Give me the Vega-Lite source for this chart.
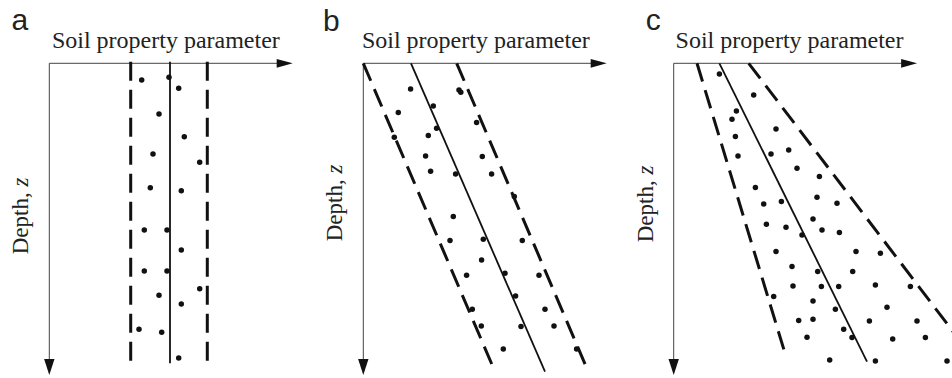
{
  "$schema": "https://vega.github.io/schema/vega-lite/v6.json",
  "padding": 0,
  "spacing": 0,
  "background": "white",
  "config": {"view": {"stroke": null}, "axis": {"disable": true}},
  "datasets": {
    "one": [{}],
    "dots": [
      {"panel":"a","p":92.4,"z":16.7},{"panel":"a","p":119.7,"z":14},{"panel":"a","p":129.4,"z":25},{"panel":"a","p":109.7,"z":50.7},
      {"panel":"a","p":135,"z":73.4},{"panel":"a","p":103.7,"z":90.7},{"panel":"a","p":150.4,"z":99},{"panel":"a","p":101,"z":124.4},
      {"panel":"a","p":132,"z":127.4},{"panel":"a","p":95,"z":166.7},{"panel":"a","p":117.7,"z":166.7},{"panel":"a","p":132,"z":186.7},
      {"panel":"a","p":95,"z":207.7},{"panel":"a","p":117.7,"z":207.7},{"panel":"a","p":150.4,"z":225.4},{"panel":"a","p":109.7,"z":232},
      {"panel":"a","p":132,"z":240.7},{"panel":"a","p":89.7,"z":266},{"panel":"a","p":112.4,"z":269},{"panel":"a","p":129.4,"z":294.7},
      {"panel":"b","p":47.3,"z":25.7},{"panel":"b","p":95.7,"z":26.7},{"panel":"b","p":97.5,"z":29},{"panel":"b","p":70,"z":42.7},
      {"panel":"b","p":35,"z":49.3},{"panel":"b","p":73.3,"z":65},{"panel":"b","p":113.3,"z":59.3},{"panel":"b","p":65,"z":72.3},
      {"panel":"b","p":31,"z":74},{"panel":"b","p":62.3,"z":92.7},{"panel":"b","p":119,"z":93.3},{"panel":"b","p":67.3,"z":108},
      {"panel":"b","p":92.3,"z":110.7},{"panel":"b","p":128.3,"z":110.7},{"panel":"b","p":151,"z":133.3},{"panel":"b","p":90,"z":153.3},
      {"panel":"b","p":86.7,"z":177.3},{"panel":"b","p":120,"z":176},{"panel":"b","p":159,"z":177.3},{"panel":"b","p":118.3,"z":196.7},
      {"panel":"b","p":103.3,"z":212},{"panel":"b","p":141.7,"z":210},{"panel":"b","p":175.7,"z":212},{"panel":"b","p":152.3,"z":232.7},
      {"panel":"b","p":109,"z":246},{"panel":"b","p":181.7,"z":246},{"panel":"b","p":118,"z":262.7},{"panel":"b","p":157.7,"z":263.3},
      {"panel":"b","p":190.7,"z":262.7},{"panel":"b","p":140,"z":285.7},{"panel":"b","p":213.3,"z":285.7},
      {"panel":"c","p":45.7,"z":10.7},{"panel":"c","p":80,"z":31.7},{"panel":"c","p":62.7,"z":47.7},{"panel":"c","p":58.3,"z":56},
      {"panel":"c","p":102.3,"z":65.7},{"panel":"c","p":61.7,"z":73.3},{"panel":"c","p":115,"z":86.7},{"panel":"c","p":64.3,"z":92.7},
      {"panel":"c","p":97.3,"z":90.7},{"panel":"c","p":123.3,"z":105},{"panel":"c","p":145.7,"z":113.3},{"panel":"c","p":81.7,"z":124.3},
      {"panel":"c","p":143.3,"z":134},{"panel":"c","p":107.7,"z":138.3},{"panel":"c","p":90,"z":140.7},{"panel":"c","p":163.3,"z":140},
      {"panel":"c","p":139.3,"z":155.7},{"panel":"c","p":92.7,"z":161},{"panel":"c","p":112.3,"z":164},{"panel":"c","p":148.3,"z":166.7},
      {"panel":"c","p":165.7,"z":169.3},{"panel":"c","p":128.3,"z":171.7},{"panel":"c","p":102.3,"z":188.3},{"panel":"c","p":182.3,"z":188.3},
      {"panel":"c","p":206.7,"z":190},{"panel":"c","p":118.3,"z":203.3},{"panel":"c","p":144,"z":208.3},{"panel":"c","p":179,"z":208.3},
      {"panel":"c","p":119.3,"z":222.7},{"panel":"c","p":147.7,"z":223.3},{"panel":"c","p":165,"z":223.3},{"panel":"c","p":201.7,"z":221.7},
      {"panel":"c","p":236.7,"z":223.3},{"panel":"c","p":100,"z":233.3},{"panel":"c","p":139.3,"z":237.7},{"panel":"c","p":213.3,"z":244},
      {"panel":"c","p":161.7,"z":246},{"panel":"c","p":125,"z":257.3},{"panel":"c","p":139.3,"z":256},{"panel":"c","p":195.7,"z":257.7},
      {"panel":"c","p":243.3,"z":257.7},{"panel":"c","p":170,"z":266},{"panel":"c","p":133.3,"z":274},{"panel":"c","p":178.3,"z":274.3},
      {"panel":"c","p":219,"z":275.7},{"panel":"c","p":251.7,"z":274.3},{"panel":"c","p":156,"z":296.7},{"panel":"c","p":201.7,"z":297.7},
      {"panel":"c","p":273.3,"z":297.7}
    ],
    "lines": [
      {"panel":"a","line":"lower","p":81.4,"z":-1.5},{"panel":"a","line":"lower","p":81.4,"z":301.7},
      {"panel":"a","line":"mean","p":120.7,"z":-1.5},{"panel":"a","line":"mean","p":120.7,"z":300},
      {"panel":"a","line":"upper","p":158,"z":-1.5},{"panel":"a","line":"upper","p":158,"z":301.7},
      {"panel":"b","line":"lower","p":0,"z":0},{"panel":"b","line":"lower","p":131.7,"z":308.4},
      {"panel":"b","line":"mean","p":47.7,"z":0},{"panel":"b","line":"mean","p":181.7,"z":308.4},
      {"panel":"b","line":"upper","p":93.4,"z":0},{"panel":"b","line":"upper","p":225,"z":308.4},
      {"panel":"c","line":"lower","p":23.3,"z":0},{"panel":"c","line":"lower","p":112.3,"z":293.3},
      {"panel":"c","line":"mean","p":45.7,"z":0},{"panel":"c","line":"mean","p":193.3,"z":298.3},
      {"panel":"c","line":"upper","p":75,"z":0},{"panel":"c","line":"upper","p":302,"z":298}
    ]
  },
  "hconcat": [
    {
      "width": 317, "height": 378,
      "layer": [
        {"data":{"name":"one"},"mark": {"type":"rule","color":"#444","strokeWidth":1},
         "encoding": {"x":{"datum":0,"type":"quantitative","scale":{"domain":[-49.3,267.7],"nice":false,"zero":false}},"x2":{"datum":236},
                      "y":{"datum":0,"type":"quantitative","scale":{"domain":[-63.3,314.7],"nice":false,"zero":false,"reverse":true}}}},
        {"data":{"name":"one"},"mark": {"type":"rule","color":"#444","strokeWidth":1},
         "encoding": {"x":{"datum":0,"type":"quantitative","scale":{"domain":[-49.3,267.7],"nice":false,"zero":false}},
                      "y":{"datum":0,"type":"quantitative","scale":{"domain":[-63.3,314.7],"nice":false,"zero":false,"reverse":true}},"y2":{"datum":304}}},
        {"data":{"name":"one"},"mark": {"type":"point","shape":"M-1,-0.55L1,0L-1,0.55Z","size":256,"filled":true,"color":"#111","opacity":1},
         "encoding": {"x":{"datum":235.4,"type":"quantitative","scale":{"domain":[-49.3,267.7],"nice":false,"zero":false}},
                      "y":{"datum":0,"type":"quantitative","scale":{"domain":[-63.3,314.7],"nice":false,"zero":false,"reverse":true}}}},
        {"data":{"name":"one"},"mark": {"type":"point","shape":"M-0.65,-1L0.65,-1L0,1Z","size":256,"filled":true,"color":"#111","opacity":1},
         "encoding": {"x":{"datum":0,"type":"quantitative","scale":{"domain":[-49.3,267.7],"nice":false,"zero":false}},
                      "y":{"datum":303.7,"type":"quantitative","scale":{"domain":[-63.3,314.7],"nice":false,"zero":false,"reverse":true}}}},
        {"data":{"name":"lines"},"transform":[{"filter":"datum.panel == 'a' && datum.line != 'mean'"}],
         "mark":{"type":"line","color":"#111","strokeWidth":3,"strokeDash":[19,9],"strokeCap":"butt"},
         "encoding":{"x":{"field":"p","type":"quantitative","scale":{"domain":[-49.3,267.7],"nice":false,"zero":false}},
                     "y":{"field":"z","type":"quantitative","scale":{"domain":[-63.3,314.7],"nice":false,"zero":false,"reverse":true}},
                     "detail":{"field":"line"},"order":{"field":"z","type":"quantitative"}}},
        {"data":{"name":"lines"},"transform":[{"filter":"datum.panel == 'a' && datum.line == 'mean'"}],
         "mark":{"type":"line","color":"#111","strokeWidth":1.8},
         "encoding":{"x":{"field":"p","type":"quantitative","scale":{"domain":[-49.3,267.7],"nice":false,"zero":false}},
                     "y":{"field":"z","type":"quantitative","scale":{"domain":[-63.3,314.7],"nice":false,"zero":false,"reverse":true}},
                     "order":{"field":"z","type":"quantitative"}}},
        {"data":{"name":"dots"},"transform":[{"filter":"datum.panel == 'a'"}],
         "mark":{"type":"point","filled":true,"size":30,"color":"#111","opacity":1},
         "encoding":{"x":{"field":"p","type":"quantitative","scale":{"domain":[-49.3,267.7],"nice":false,"zero":false}},
                     "y":{"field":"z","type":"quantitative","scale":{"domain":[-63.3,314.7],"nice":false,"zero":false,"reverse":true}}}},
        {"data":{"name":"one"},"mark":{"type":"text","text":"Soil property parameter","font":"Liberation Serif","fontSize":24,"color":"#222","align":"left","baseline":"alphabetic"},
         "encoding":{"x":{"datum":2.6,"type":"quantitative","scale":{"domain":[-49.3,267.7],"nice":false,"zero":false}},
                     "y":{"datum":-15,"type":"quantitative","scale":{"domain":[-63.3,314.7],"nice":false,"zero":false,"reverse":true}}}},
        {"data":{"name":"one"},"mark":{"type":"text","text":"Depth, ","font":"Liberation Serif","fontSize":23,"color":"#222","align":"left","baseline":"alphabetic","angle":270},
         "encoding":{"x":{"datum":-21,"type":"quantitative","scale":{"domain":[-49.3,267.7],"nice":false,"zero":false}},
                     "y":{"datum":191,"type":"quantitative","scale":{"domain":[-63.3,314.7],"nice":false,"zero":false,"reverse":true}}}},
        {"data":{"name":"one"},"mark":{"type":"text","text":"z","font":"Liberation Serif","fontStyle":"italic","fontSize":23,"color":"#222","align":"left","baseline":"alphabetic","angle":270},
         "encoding":{"x":{"datum":-21,"type":"quantitative","scale":{"domain":[-49.3,267.7],"nice":false,"zero":false}},
                     "y":{"datum":123.3,"type":"quantitative","scale":{"domain":[-63.3,314.7],"nice":false,"zero":false,"reverse":true}}}},
        {"data":{"name":"one"},"mark":{"type":"text","text":"a","font":"Liberation Sans","fontSize":30,"color":"#222","align":"left","baseline":"alphabetic"},
         "encoding":{"x":{"datum":-37.8,"type":"quantitative","scale":{"domain":[-49.3,267.7],"nice":false,"zero":false}},
                     "y":{"datum":-33.3,"type":"quantitative","scale":{"domain":[-63.3,314.7],"nice":false,"zero":false,"reverse":true}}}}
      ]
    },
    {
      "width": 317, "height": 378,
      "layer": [
        {"data":{"name":"one"},"mark": {"type":"rule","color":"#444","strokeWidth":1},
         "encoding": {"x":{"datum":0,"type":"quantitative","scale":{"domain":[-46.3,270.7],"nice":false,"zero":false}},"x2":{"datum":236},
                      "y":{"datum":0,"type":"quantitative","scale":{"domain":[-63.3,314.7],"nice":false,"zero":false,"reverse":true}}}},
        {"data":{"name":"one"},"mark": {"type":"rule","color":"#444","strokeWidth":1},
         "encoding": {"x":{"datum":0,"type":"quantitative","scale":{"domain":[-46.3,270.7],"nice":false,"zero":false}},
                      "y":{"datum":0,"type":"quantitative","scale":{"domain":[-63.3,314.7],"nice":false,"zero":false,"reverse":true}},"y2":{"datum":304}}},
        {"data":{"name":"one"},"mark": {"type":"point","shape":"M-1,-0.55L1,0L-1,0.55Z","size":256,"filled":true,"color":"#111","opacity":1},
         "encoding": {"x":{"datum":235.4,"type":"quantitative","scale":{"domain":[-46.3,270.7],"nice":false,"zero":false}},
                      "y":{"datum":0,"type":"quantitative","scale":{"domain":[-63.3,314.7],"nice":false,"zero":false,"reverse":true}}}},
        {"data":{"name":"one"},"mark": {"type":"point","shape":"M-0.65,-1L0.65,-1L0,1Z","size":256,"filled":true,"color":"#111","opacity":1},
         "encoding": {"x":{"datum":0,"type":"quantitative","scale":{"domain":[-46.3,270.7],"nice":false,"zero":false}},
                      "y":{"datum":303.7,"type":"quantitative","scale":{"domain":[-63.3,314.7],"nice":false,"zero":false,"reverse":true}}}},
        {"data":{"name":"lines"},"transform":[{"filter":"datum.panel == 'b' && datum.line != 'mean'"}],
         "mark":{"type":"line","color":"#111","strokeWidth":3,"strokeDash":[19,9],"strokeCap":"butt"},
         "encoding":{"x":{"field":"p","type":"quantitative","scale":{"domain":[-46.3,270.7],"nice":false,"zero":false}},
                     "y":{"field":"z","type":"quantitative","scale":{"domain":[-63.3,314.7],"nice":false,"zero":false,"reverse":true}},
                     "detail":{"field":"line"},"order":{"field":"z","type":"quantitative"}}},
        {"data":{"name":"lines"},"transform":[{"filter":"datum.panel == 'b' && datum.line == 'mean'"}],
         "mark":{"type":"line","color":"#111","strokeWidth":1.8},
         "encoding":{"x":{"field":"p","type":"quantitative","scale":{"domain":[-46.3,270.7],"nice":false,"zero":false}},
                     "y":{"field":"z","type":"quantitative","scale":{"domain":[-63.3,314.7],"nice":false,"zero":false,"reverse":true}},
                     "order":{"field":"z","type":"quantitative"}}},
        {"data":{"name":"dots"},"transform":[{"filter":"datum.panel == 'b'"}],
         "mark":{"type":"point","filled":true,"size":30,"color":"#111","opacity":1},
         "encoding":{"x":{"field":"p","type":"quantitative","scale":{"domain":[-46.3,270.7],"nice":false,"zero":false}},
                     "y":{"field":"z","type":"quantitative","scale":{"domain":[-63.3,314.7],"nice":false,"zero":false,"reverse":true}}}},
        {"data":{"name":"one"},"mark":{"type":"text","text":"Soil property parameter","font":"Liberation Serif","fontSize":24,"color":"#222","align":"left","baseline":"alphabetic"},
         "encoding":{"x":{"datum":-1.4,"type":"quantitative","scale":{"domain":[-46.3,270.7],"nice":false,"zero":false}},
                     "y":{"datum":-15,"type":"quantitative","scale":{"domain":[-63.3,314.7],"nice":false,"zero":false,"reverse":true}}}},
        {"data":{"name":"one"},"mark":{"type":"text","text":"Depth, ","font":"Liberation Serif","fontSize":23,"color":"#222","align":"left","baseline":"alphabetic","angle":270},
         "encoding":{"x":{"datum":-21,"type":"quantitative","scale":{"domain":[-46.3,270.7],"nice":false,"zero":false}},
                     "y":{"datum":178,"type":"quantitative","scale":{"domain":[-63.3,314.7],"nice":false,"zero":false,"reverse":true}}}},
        {"data":{"name":"one"},"mark":{"type":"text","text":"z","font":"Liberation Serif","fontStyle":"italic","fontSize":23,"color":"#222","align":"left","baseline":"alphabetic","angle":270},
         "encoding":{"x":{"datum":-21,"type":"quantitative","scale":{"domain":[-46.3,270.7],"nice":false,"zero":false}},
                     "y":{"datum":110.3,"type":"quantitative","scale":{"domain":[-63.3,314.7],"nice":false,"zero":false,"reverse":true}}}},
        {"data":{"name":"one"},"mark":{"type":"text","text":"b","font":"Liberation Sans","fontSize":30,"color":"#222","align":"left","baseline":"alphabetic"},
         "encoding":{"x":{"datum":-40.3,"type":"quantitative","scale":{"domain":[-46.3,270.7],"nice":false,"zero":false}},
                     "y":{"datum":-32.3,"type":"quantitative","scale":{"domain":[-63.3,314.7],"nice":false,"zero":false,"reverse":true}}}}
      ]
    },
    {
      "width": 317, "height": 378,
      "layer": [
        {"data":{"name":"one"},"mark": {"type":"rule","color":"#444","strokeWidth":1},
         "encoding": {"x":{"datum":0,"type":"quantitative","scale":{"domain":[-37.7,279.3],"nice":false,"zero":false}},"x2":{"datum":236},
                      "y":{"datum":0,"type":"quantitative","scale":{"domain":[-63.3,314.7],"nice":false,"zero":false,"reverse":true}}}},
        {"data":{"name":"one"},"mark": {"type":"rule","color":"#444","strokeWidth":1},
         "encoding": {"x":{"datum":0,"type":"quantitative","scale":{"domain":[-37.7,279.3],"nice":false,"zero":false}},
                      "y":{"datum":0,"type":"quantitative","scale":{"domain":[-63.3,314.7],"nice":false,"zero":false,"reverse":true}},"y2":{"datum":304}}},
        {"data":{"name":"one"},"mark": {"type":"point","shape":"M-1,-0.55L1,0L-1,0.55Z","size":256,"filled":true,"color":"#111","opacity":1},
         "encoding": {"x":{"datum":235.4,"type":"quantitative","scale":{"domain":[-37.7,279.3],"nice":false,"zero":false}},
                      "y":{"datum":0,"type":"quantitative","scale":{"domain":[-63.3,314.7],"nice":false,"zero":false,"reverse":true}}}},
        {"data":{"name":"one"},"mark": {"type":"point","shape":"M-0.65,-1L0.65,-1L0,1Z","size":256,"filled":true,"color":"#111","opacity":1},
         "encoding": {"x":{"datum":0,"type":"quantitative","scale":{"domain":[-37.7,279.3],"nice":false,"zero":false}},
                      "y":{"datum":303.7,"type":"quantitative","scale":{"domain":[-63.3,314.7],"nice":false,"zero":false,"reverse":true}}}},
        {"data":{"name":"lines"},"transform":[{"filter":"datum.panel == 'c' && datum.line != 'mean'"}],
         "mark":{"type":"line","color":"#111","strokeWidth":3,"strokeDash":[19,9],"strokeCap":"butt","clip":true},
         "encoding":{"x":{"field":"p","type":"quantitative","scale":{"domain":[-37.7,279.3],"nice":false,"zero":false}},
                     "y":{"field":"z","type":"quantitative","scale":{"domain":[-63.3,314.7],"nice":false,"zero":false,"reverse":true}},
                     "detail":{"field":"line"},"order":{"field":"z","type":"quantitative"}}},
        {"data":{"name":"lines"},"transform":[{"filter":"datum.panel == 'c' && datum.line == 'mean'"}],
         "mark":{"type":"line","color":"#111","strokeWidth":1.8},
         "encoding":{"x":{"field":"p","type":"quantitative","scale":{"domain":[-37.7,279.3],"nice":false,"zero":false}},
                     "y":{"field":"z","type":"quantitative","scale":{"domain":[-63.3,314.7],"nice":false,"zero":false,"reverse":true}},
                     "order":{"field":"z","type":"quantitative"}}},
        {"data":{"name":"dots"},"transform":[{"filter":"datum.panel == 'c'"}],
         "mark":{"type":"point","filled":true,"size":30,"color":"#111","opacity":1},
         "encoding":{"x":{"field":"p","type":"quantitative","scale":{"domain":[-37.7,279.3],"nice":false,"zero":false}},
                     "y":{"field":"z","type":"quantitative","scale":{"domain":[-63.3,314.7],"nice":false,"zero":false,"reverse":true}}}},
        {"data":{"name":"one"},"mark":{"type":"text","text":"Soil property parameter","font":"Liberation Serif","fontSize":24,"color":"#222","align":"left","baseline":"alphabetic"},
         "encoding":{"x":{"datum":1.9,"type":"quantitative","scale":{"domain":[-37.7,279.3],"nice":false,"zero":false}},
                     "y":{"datum":-15,"type":"quantitative","scale":{"domain":[-63.3,314.7],"nice":false,"zero":false,"reverse":true}}}},
        {"data":{"name":"one"},"mark":{"type":"text","text":"Depth, ","font":"Liberation Serif","fontSize":23,"color":"#222","align":"left","baseline":"alphabetic","angle":270},
         "encoding":{"x":{"datum":-21,"type":"quantitative","scale":{"domain":[-37.7,279.3],"nice":false,"zero":false}},
                     "y":{"datum":179,"type":"quantitative","scale":{"domain":[-63.3,314.7],"nice":false,"zero":false,"reverse":true}}}},
        {"data":{"name":"one"},"mark":{"type":"text","text":"z","font":"Liberation Serif","fontStyle":"italic","fontSize":23,"color":"#222","align":"left","baseline":"alphabetic","angle":270},
         "encoding":{"x":{"datum":-21,"type":"quantitative","scale":{"domain":[-37.7,279.3],"nice":false,"zero":false}},
                     "y":{"datum":111.3,"type":"quantitative","scale":{"domain":[-63.3,314.7],"nice":false,"zero":false,"reverse":true}}}},
        {"data":{"name":"one"},"mark":{"type":"text","text":"c","font":"Liberation Sans","fontSize":30,"color":"#222","align":"left","baseline":"alphabetic"},
         "encoding":{"x":{"datum":-27.9,"type":"quantitative","scale":{"domain":[-37.7,279.3],"nice":false,"zero":false}},
                     "y":{"datum":-33.3,"type":"quantitative","scale":{"domain":[-63.3,314.7],"nice":false,"zero":false,"reverse":true}}}}
      ]
    }
  ]
}
